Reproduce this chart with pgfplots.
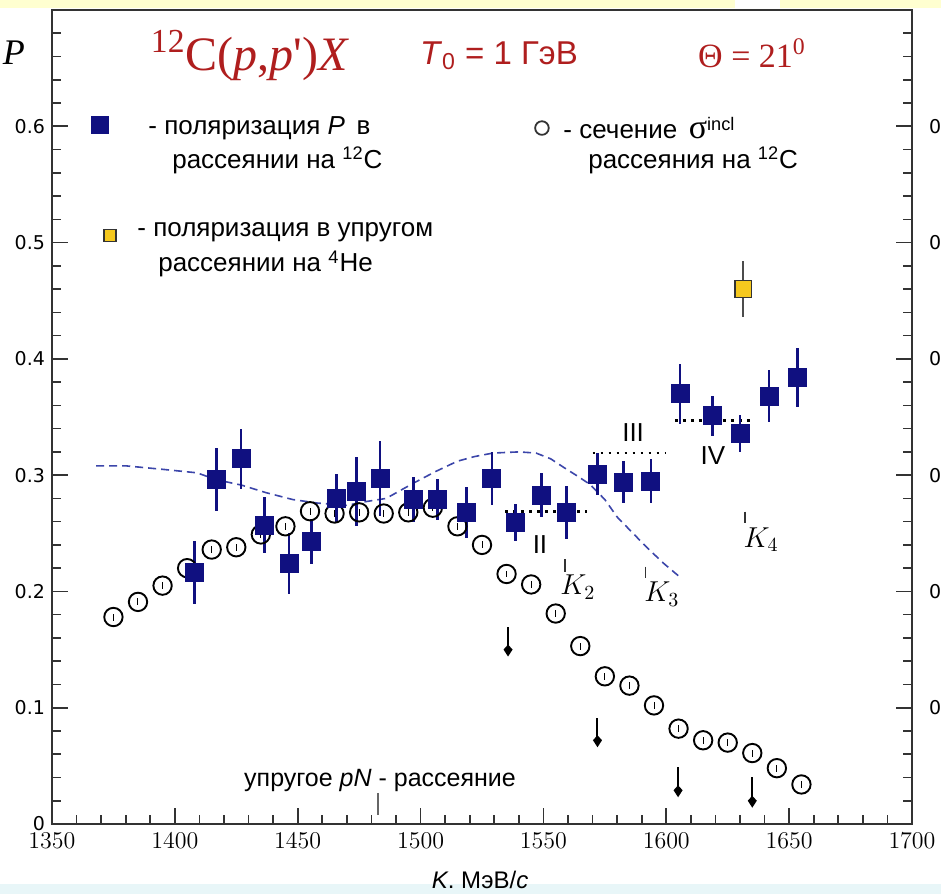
\documentclass[border=0pt]{standalone}
\usepackage{fontspec}
\setmainfont{Liberation Sans}
\newfontfamily\timesf{Liberation Serif}
\newfontfamily\dejavu{DejaVu Sans}
\usepackage{pgfplots}
\usepackage{pgfplotstable}
\pgfplotsset{compat=1.18}
\usetikzlibrary{arrows.meta}
\definecolor{navyb}{RGB}{16,16,128}
\definecolor{curveb}{RGB}{60,70,170}
\definecolor{gold}{RGB}{245,200,30}
\definecolor{titred}{RGB}{175,30,30}
\definecolor{bgyellow}{RGB}{255,255,208}
\definecolor{bgcyan}{RGB}{232,246,248}

\pgfplotstableread{
x y ey
1408.0 0.216 0.027
1417.0 0.296 0.027
1426.9 0.314 0.026
1436.5 0.257 0.024
1446.5 0.224 0.026
1455.5 0.243 0.019
1465.7 0.280 0.021
1474.0 0.286 0.030
1483.5 0.297 0.032
1497.0 0.279 0.019
1507.0 0.279 0.018
1518.7 0.268 0.022
1529.0 0.297 0.023
1538.7 0.259 0.016
1549.3 0.283 0.019
1559.5 0.268 0.023
1572.1 0.301 0.018
1582.6 0.294 0.018
1593.7 0.295 0.019
1605.6 0.370 0.026
1618.7 0.351 0.017
1630.0 0.336 0.016
1641.8 0.368 0.022
1653.5 0.384 0.025
}\polC

\pgfplotstableread{
x y ey
1375 0.178 0.003
1385 0.191 0.003
1395 0.205 0.003
1405 0.220 0.003
1415 0.236 0.003
1425 0.238 0.003
1435 0.249 0.003
1445 0.256 0.003
1455 0.269 0.003
1465 0.267 0.003
1475 0.268 0.003
1485 0.267 0.003
1495 0.268 0.003
1505 0.272 0.003
1515 0.256 0.003
1525 0.240 0.003
1535 0.215 0.003
1545 0.206 0.003
1555 0.181 0.003
1565 0.153 0.003
1575 0.127 0.003
1585 0.119 0.003
1595 0.102 0.003
1605 0.082 0.003
1615 0.072 0.003
1625 0.070 0.003
1635 0.061 0.003
1645 0.048 0.003
1655 0.034 0.003
}\sigC

\pgfplotstableread{
x y
1368.0 0.308
1380.0 0.308
1395.0 0.305
1409.0 0.302
1417.0 0.296
1427.0 0.2915
1437.0 0.285
1448.0 0.279
1458.0 0.276
1470.0 0.274
1477.0 0.277
1486.0 0.280
1497.0 0.293
1506.0 0.303
1515.0 0.312
1522.0 0.316
1529.5 0.319
1540.0 0.320
1547.0 0.319
1553.0 0.314
1558.0 0.307
1564.0 0.299
1569.0 0.292
1575.0 0.279
1580.0 0.264
1586.0 0.251
1592.0 0.238
1599.0 0.224
1606.3 0.211
}\theory

\begin{document}
\begin{tikzpicture}
\fill[bgyellow] (-26pt,408pt) rectangle (341.5pt,412pt);
\fill[bgyellow] (364pt,408pt) rectangle (444.5pt,412pt);
\fill[bgcyan] (-26pt,-35pt) rectangle (444.5pt,-30pt);
\begin{axis}[
  at={(0,0)}, anchor=south west,
  scale only axis, width=430pt, height=407pt,
  xmin=1350, xmax=1700, ymin=0, ymax=0.7,
  xtick={1350,1400,1450,1500,1550,1600,1650,1700},
  minor x tick num=4,
  ytick={0,0.1,0.2,0.3,0.4,0.5,0.6},
  minor ytick={0.02,0.04,0.06,0.08,0.12,0.14,0.16,0.18,0.22,0.24,0.26,0.28,0.32,0.34,0.36,0.38,0.42,0.44,0.46,0.48,0.52,0.54,0.56,0.58,0.62,0.64,0.66,0.68},
  xtick pos=left, ytick pos=both, yticklabel pos=left,
  tick align=inside,
  major tick length=8pt, minor tick length=4.5pt,
  axis line style={line width=1pt, black!80},
  tick style={line width=0.8pt, black!80},
  /pgf/number format/1000 sep={},
  xticklabel style={font=\fontsize{11.5}{13}\selectfont, yshift=-1pt},
  yticklabel={\dejavu\fontsize{9.5}{11}\selectfont\pgfmathprintnumber[assume math mode=true]{\tick}},
  xlabel={\textit{K}. МэВ/\textit{c}},
  xlabel style={at={(axis description cs:0.4977,0)}, anchor=center, yshift=-28pt, font=\fontsize{12}{14}\selectfont},
  ylabel={\timesf\itshape P},
  ylabel style={rotate=-90, at={(axis description cs:-0.0442,0.9480)}, anchor=center, font=\fontsize{18}{20}\selectfont},
  clip=false,
]
% theory curve
\addplot[curveb, line width=0.8pt, dash pattern=on 4pt off 2.5pt] table[x=x,y=y] {\theory};
% inclusive cross section (open circles)
\addplot[only marks, mark=o, mark size=4.6pt, mark options={line width=0.95pt, black},
  error bars/.cd, y dir=both, y explicit, error mark=none,
  error bar style={line width=0.5pt, black}]
  table[x=x,y=y,y error=ey] {\sigC};
% dotted levels
\addplot[black, line width=1.4pt, dash pattern=on 1.4pt off 2.6pt] coordinates {(1534.4,0.269) (1567.7,0.269)};
\addplot[black, line width=1.4pt, dash pattern=on 1.4pt off 2.6pt] coordinates {(1570.0,0.319) (1599.5,0.319)};
\addplot[black, line width=1.4pt, dash pattern=on 1.4pt off 2.6pt] coordinates {(1603.5,0.347) (1636.0,0.347)};
% polarization on 12C
\addplot[only marks, mark=square*, mark size=4.5pt, mark options={fill=navyb, draw=navyb},
  error bars/.cd, y dir=both, y explicit, error mark=none,
  error bar style={line width=1.3pt, navyb}]
  table[x=x,y=y,y error=ey] {\polC};
% elastic 4He
\addplot[only marks, mark=square*, mark size=4.2pt, mark options={fill=gold, draw=black!80, line width=0.8pt},
  error bars/.cd, y dir=both, y explicit, error mark=none,
  error bar style={line width=1.2pt, black!70}]
  coordinates {(1631.3,0.460) +- (0,0.024)};
% arrows
\addplot[black, line width=1pt, -{Kite[length=6pt,width=4.5pt,inset=2.5pt]}] coordinates {(1535.6,0.169) (1535.6,0.144)};
\addplot[black, line width=1pt, -{Kite[length=6pt,width=4.5pt,inset=2.5pt]}] coordinates {(1572.0,0.091) (1572.0,0.066)};
\addplot[black, line width=1pt, -{Kite[length=6pt,width=4.5pt,inset=2.5pt]}] coordinates {(1604.8,0.049) (1604.8,0.023)};
\addplot[black, line width=1pt, -{Kite[length=6pt,width=4.5pt,inset=2.5pt]}] coordinates {(1635.0,0.040) (1635.0,0.014)};
% threshold ticks
\addplot[black!80, line width=0.6pt] coordinates {(1558.8,0.2276) (1558.8,0.2169)};
\addplot[black!80, line width=0.6pt] coordinates {(1591.7,0.2213) (1591.7,0.2113)};
\addplot[black!80, line width=0.6pt] coordinates {(1632.0,0.2686) (1632.0,0.2586)};
\addplot[black!60, line width=0.6pt] coordinates {(1482.7,0.0267) (1482.7,0.0077)};
% legend markers
\addplot[only marks, mark=square*, mark size=4.2pt, mark options={fill=navyb, draw=navyb}] coordinates {(1369.5,0.601)};
\addplot[only marks, mark=square*, mark size=3pt, mark options={fill=gold, draw=black!80, line width=0.7pt}] coordinates {(1373.6,0.506)};
\addplot[only marks, mark=o, mark size=3.4pt, mark options={line width=0.9pt, black!80}] coordinates {(1549.4,0.5985)};
% titles
\node[titred, font=\timesf\fontsize{24}{26}\selectfont] at (axis cs:1430.6,0.661) {\textsuperscript{12}C(\textit{p},\textit{p}')\textit{X}};
\node[titred, font=\fontsize{16.5}{19}\selectfont] at (axis cs:1531.9,0.661) {\textit{T}\textsubscript{0} = 1 ГэВ};
\node[titred, font=\timesf\fontsize{17}{19}\selectfont] at (axis cs:1634.9,0.663) {Θ = 21\textsuperscript{0}};
% legend texts
\begin{scope}[every node/.style={anchor=west, inner sep=0pt, font=\fontsize{13}{15}\selectfont}]
\node at (axis cs:1389.1,0.5985) {- поляризация \textit{P}\, в};
\node at (axis cs:1398.8,0.5710) {рассеянии на \textsuperscript{12}C};
\node at (axis cs:1384.6,0.5091) {- поляризация в упругом};
\node at (axis cs:1393.1,0.4816) {рассеянии на \textsuperscript{4}He};
\node at (axis cs:1558.0,0.5985) {- сечение\, {\timesf\fontsize{17}{17}\selectfont σ}\textsuperscript{incl}};
\node at (axis cs:1568.1,0.5710) {рассеяния на \textsuperscript{12}C};
\end{scope}
\node[font=\fontsize{12.5}{15}\selectfont] at (axis cs:1483.5,0.0378) {упругое \textit{pN} - рассеяние};
% region labels
\node[font=\fontsize{13}{15}\selectfont] at (axis cs:1548.6,0.240) {II};
\node[font=\fontsize{13}{15}\selectfont] at (axis cs:1586.5,0.337) {III};
\node[font=\fontsize{13}{15}\selectfont] at (axis cs:1619.0,0.317) {IV};
\node[anchor=base west, inner sep=0pt, font=\fontsize{14}{16}\selectfont] at (axis cs:1556.7,0.197) {$K_2$};
\node[anchor=base west, inner sep=0pt, font=\fontsize{14}{16}\selectfont] at (axis cs:1590.9,0.191) {$K_3$};
\node[anchor=base west, inner sep=0pt, font=\fontsize{14}{16}\selectfont] at (axis cs:1631.3,0.238) {$K_4$};
\end{axis}
\begin{axis}[
  at={(0,0)}, anchor=south west,
  scale only axis, width=430pt, height=407pt,
  xmin=1350, xmax=1700, ymin=0, ymax=0.7,
  hide x axis, axis y line*=right,
  ytick={0.1,0.2,0.3,0.4,0.5,0.6},
  y axis line style={draw=none}, ytick style={draw=none},
  yticklabel={\dejavu\fontsize{9.5}{11}\selectfont\pgfmathprintnumber[assume math mode=true]{\tick}},
  yticklabel style={xshift=5pt},
]
\end{axis}
\pgfresetboundingbox
\path[use as bounding box] (-26pt,-35pt) rectangle (444.5pt,412pt);
\end{tikzpicture}
\end{document}
